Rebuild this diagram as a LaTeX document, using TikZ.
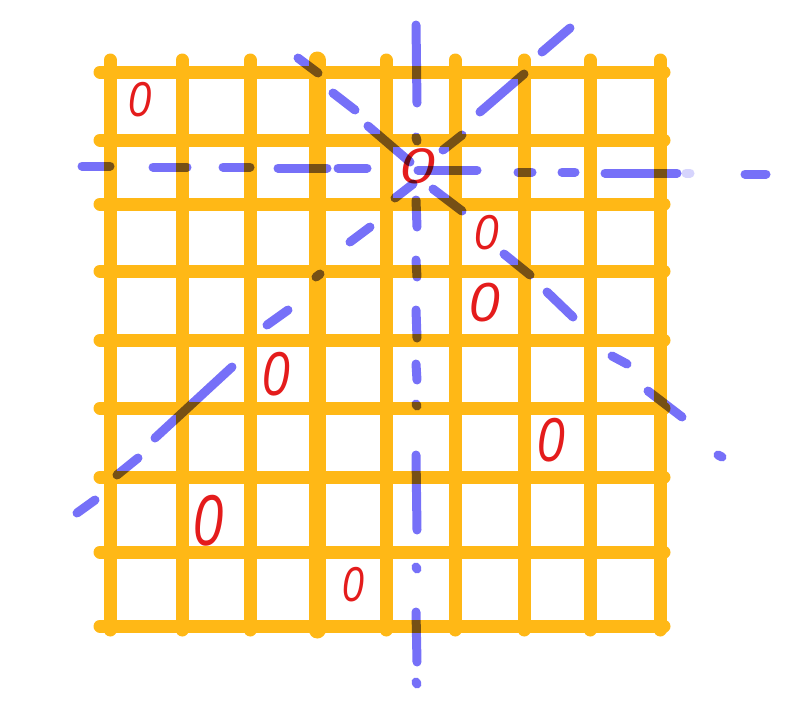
\documentclass[tikz,border=0pt]{standalone}
\usepackage{fontspec}
\usepackage{graphicx}
\setmainfont{Liberation Sans}
\definecolor{gridorange}{RGB}{255,184,22}
\definecolor{penblue}{RGB}{118,112,248}
\definecolor{qred}{RGB}{228,28,28}
\tikzset{
  gridline/.style={draw=gridorange, line width=13pt, line cap=round},
  bluedash/.style={draw=penblue, line width=9pt, line cap=round},
  queen/.style={text=qred, inner sep=0pt, font=\fontsize{#1}{#1}\selectfont\itshape}
}
\begin{document}
\begin{tikzpicture}[x=1pt,y=-1pt]
\useasboundingbox (0,0) rectangle (793,710);
% grid
\foreach \y in {72,140,204,271,340,408,477,552,626}
  \draw[gridline] (100,\y) -- (664,\y);
\foreach \x in {110,182,250,455,524,590,660}
  \draw[gridline] (\x,60) -- (\x,630);
\draw[gridline, line width=17pt] (317,60) -- (317,630);
\draw[gridline] (386,60) -- (386,630);
% queens
\node[queen=49] (q0) at (140,100) {\scalebox{0.85}[1]{0}};
\node[queen=50] (q1) at (418,166) {\scalebox{1.25}[1]{0}};
\node[queen=49] (q2) at (487,233) {\scalebox{0.9}[1]{0}};
\node[queen=55] (q3) at (485,303) {0};
\node[queen=62] (q4) at (276,374) {\scalebox{0.8}[1]{0}};
\node[queen=62] (q5) at (551,440) {\scalebox{0.8}[1]{0}};
\node[queen=72] (q6) at (209,521) {\scalebox{0.75}[1]{0}};
\node[queen=49] (q7) at (353,585) {\scalebox{0.8}[1]{0}};
% attack lines
\begin{scope}[blend mode=multiply]
% vertical
\foreach \a/\b in {25/103,137/141,200/227,260/277,310/338,364/380,404/406,455/530,567/569,612/662,682/684}
  \draw[bluedash] (416,\a) -- (417,\b);
% horizontal
\draw[bluedash] (82,166) -- (110,166);
\draw[bluedash] (153,167) -- (187,167);
\draw[bluedash] (223,167) -- (250,167);
\draw[bluedash] (278,168) -- (327,168);
\draw[bluedash] (338,168) -- (367,168);
\draw[bluedash] (418,170) -- (477,170);
\draw[bluedash] (518,172) -- (532,172);
\draw[bluedash] (562,172) -- (575,172);
\draw[bluedash] (605,173) -- (677,173);
\draw[bluedash, opacity=0.3] (686,173) -- (690,173);
\draw[bluedash] (745,174) -- (766,174);
% diagonal (top-left to bottom-right)
\draw[bluedash] (298,58) -- (318,73);
\draw[bluedash] (333,93) -- (355,110);
\draw[bluedash] (368,126) -- (410,162);
\draw[bluedash] (433,189) -- (462,211);
\draw[bluedash] (504,254) -- (530,275);
\draw[bluedash] (547,292) -- (573,317);
\draw[bluedash] (612,356) -- (627,364);
\draw[bluedash] (648,391) -- (682,417);
\draw[bluedash] (718,455) -- (722,457);
% anti-diagonal (bottom-left to top-right)
\draw[bluedash] (542,52) -- (570,28);
\draw[bluedash] (480,112) -- (524,74);
\draw[bluedash] (443,150) -- (462,135);
\draw[bluedash] (395,198) -- (413,184);
\draw[bluedash] (350,242) -- (370,227);
\draw[bluedash] (316,277) -- (320,274);
\draw[bluedash] (267,325) -- (288,310);
\draw[bluedash] (155,438) -- (232,367);
\draw[bluedash] (117,475) -- (138,458);
\draw[bluedash] (77,513) -- (95,500);
\end{scope}
\end{tikzpicture}
\end{document}
